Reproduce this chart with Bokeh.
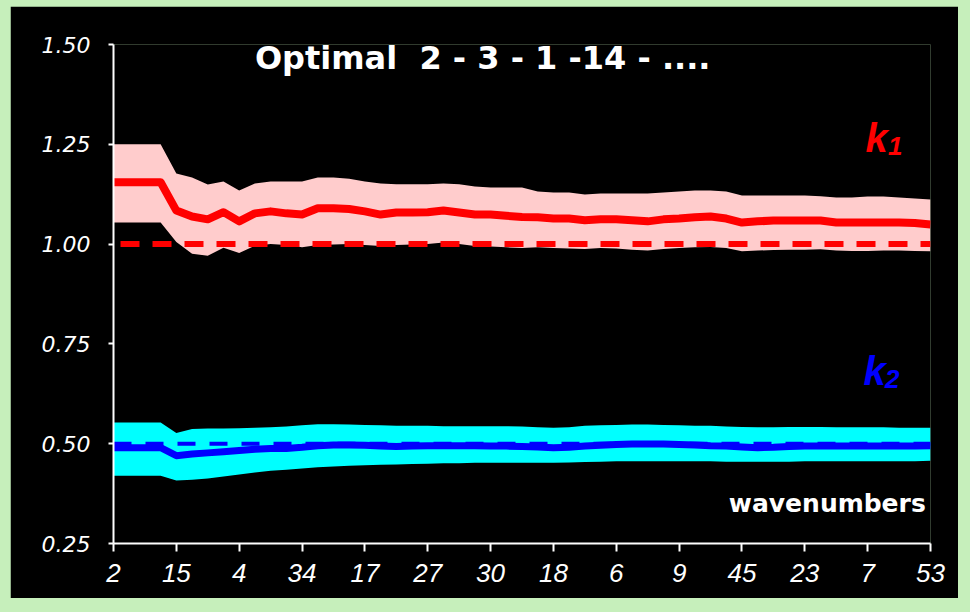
from bokeh.plotting import figure
from bokeh.layouts import column
from bokeh.models import Range1d, FixedTicker, Label
from bokeh.embed import file_html
from bokeh.resources import INLINE

# Wavenumber added at each labelled step (steps 1, 5, 9, ..., 53)
tick_labels = ["2", "15", "4", "34", "17", "27", "30", "18", "6", "9", "45", "23", "7", "53"]
n_steps = list(range(1, 54))

# k1 estimate: mean and band limits
k1_mean = [1.155, 1.155, 1.155, 1.155, 1.084, 1.069, 1.062, 1.080, 1.057, 1.077,
           1.082, 1.077, 1.074, 1.090, 1.090, 1.088, 1.082, 1.074, 1.079, 1.079,
           1.080, 1.084, 1.079, 1.074, 1.074, 1.071, 1.068, 1.067, 1.064, 1.064,
           1.060, 1.062, 1.062, 1.060, 1.057, 1.062, 1.064, 1.067, 1.069, 1.064,
           1.054, 1.057, 1.059, 1.059, 1.059, 1.059, 1.054, 1.054, 1.054, 1.054,
           1.054, 1.053, 1.049]
k1_upper = [1.250, 1.250, 1.250, 1.250, 1.177, 1.167, 1.149, 1.157, 1.134, 1.152,
            1.157, 1.157, 1.157, 1.167, 1.167, 1.164, 1.157, 1.152, 1.150, 1.150,
            1.150, 1.152, 1.150, 1.144, 1.142, 1.142, 1.142, 1.132, 1.129, 1.129,
            1.124, 1.127, 1.127, 1.127, 1.127, 1.129, 1.132, 1.134, 1.134, 1.132,
            1.122, 1.122, 1.122, 1.122, 1.122, 1.120, 1.117, 1.117, 1.119, 1.119,
            1.117, 1.114, 1.112]
k1_lower = [1.054, 1.054, 1.054, 1.054, 1.005, 0.976, 0.971, 0.991, 0.978, 0.996,
            1.000, 0.998, 0.992, 0.998, 0.999, 1.000, 0.998, 0.995, 0.998, 0.999,
            1.000, 1.004, 1.000, 0.995, 0.994, 0.992, 0.990, 0.992, 0.990, 0.989,
            0.988, 0.990, 0.989, 0.986, 0.984, 0.988, 0.990, 0.992, 0.993, 0.990,
            0.982, 0.984, 0.985, 0.986, 0.986, 0.987, 0.984, 0.983, 0.983, 0.984,
            0.984, 0.983, 0.982]

# k2 estimate: mean and band limits
k2_mean = [0.490, 0.490, 0.490, 0.490, 0.470, 0.474, 0.477, 0.480, 0.483, 0.486,
           0.488, 0.488, 0.491, 0.495, 0.497, 0.497, 0.496, 0.494, 0.493, 0.494,
           0.495, 0.495, 0.495, 0.495, 0.494, 0.494, 0.493, 0.492, 0.490, 0.491,
           0.494, 0.496, 0.498, 0.499, 0.499, 0.499, 0.498, 0.497, 0.495, 0.494,
           0.492, 0.490, 0.491, 0.493, 0.494, 0.494, 0.494, 0.494, 0.494, 0.494,
           0.494, 0.494, 0.495]
k2_upper = [0.553, 0.553, 0.553, 0.553, 0.527, 0.537, 0.538, 0.538, 0.539, 0.540,
            0.541, 0.543, 0.546, 0.549, 0.549, 0.548, 0.547, 0.546, 0.545, 0.545,
            0.545, 0.544, 0.544, 0.544, 0.544, 0.544, 0.543, 0.541, 0.540, 0.541,
            0.545, 0.546, 0.547, 0.548, 0.548, 0.547, 0.546, 0.545, 0.545, 0.543,
            0.542, 0.541, 0.541, 0.542, 0.542, 0.542, 0.541, 0.541, 0.541, 0.541,
            0.540, 0.540, 0.540]
k2_lower = [0.420, 0.420, 0.420, 0.420, 0.408, 0.410, 0.413, 0.418, 0.423, 0.428,
            0.432, 0.435, 0.438, 0.441, 0.443, 0.445, 0.446, 0.447, 0.448, 0.449,
            0.450, 0.451, 0.451, 0.452, 0.452, 0.452, 0.452, 0.452, 0.452, 0.453,
            0.454, 0.455, 0.456, 0.456, 0.456, 0.456, 0.456, 0.456, 0.456, 0.455,
            0.455, 0.455, 0.455, 0.455, 0.456, 0.456, 0.456, 0.456, 0.456, 0.456,
            0.456, 0.456, 0.457]

# True parameter values
k1_true = 1.0
k2_true = 0.5

y_ticks = [0.25, 0.50, 0.75, 1.00, 1.25, 1.50]

BG = "black"
FRAME_GREEN = "#c6efbb"

p = figure(width=948, height=592, output_backend="svg", toolbar_location=None,
           x_range=Range1d(n_steps[0], n_steps[-1]), y_range=Range1d(y_ticks[0], y_ticks[-1]),
           min_border_left=103, min_border_right=28, min_border_top=38, min_border_bottom=55)
p.background_fill_color = BG
p.border_fill_color = BG
p.outline_line_color = None
p.grid.visible = False
p.margin = (6, 12, 14, 10)

# k1 band, reference and mean
p.varea(x=n_steps, y1=k1_lower, y2=k1_upper, fill_color="#ffcccc")
p.line(x=[n_steps[0], n_steps[-1]], y=[k1_true, k1_true], line_color="#ff0000",
       line_width=6, line_dash="19 13", line_dash_offset=25)
p.line(x=n_steps, y=k1_mean, line_color="#ff0000", line_width=8, line_join="round")

# k2 band, mean and reference
p.varea(x=n_steps, y1=k2_lower, y2=k2_upper, fill_color="#00ffff")
p.line(x=n_steps, y=k2_mean, line_color="#0000ff", line_width=7, line_join="round")
p.line(x=[n_steps[0], n_steps[-1]], y=[k2_true, k2_true], line_color="#0000ff",
       line_width=4, line_dash="18 14")

# Axes
tick_pos = [n_steps[0] + 4 * i for i in range(len(tick_labels))]
p.xaxis.ticker = FixedTicker(ticks=tick_pos)
p.xaxis.major_label_overrides = {t: lab for t, lab in zip(tick_pos, tick_labels)}
p.yaxis.ticker = FixedTicker(ticks=y_ticks)
p.yaxis.major_label_overrides = {t: f"{t:.2f}" for t in y_ticks}

for ax in (p.xaxis, p.yaxis):
    ax.axis_line_color = "white"
    ax.axis_line_width = 2
    ax.major_tick_line_color = "white"
    ax.major_tick_line_width = 2
    ax.major_tick_in = 0
    ax.minor_tick_line_color = None
    ax.major_label_text_color = "white"
    ax.major_label_text_font_style = "italic"

p.xaxis.major_tick_out = 8
p.xaxis.major_label_standoff = 12
p.xaxis.major_label_text_font = "Liberation Sans"
p.xaxis.major_label_text_font_size = "26px"
p.yaxis.major_tick_out = 5
p.yaxis.major_label_standoff = 18
p.yaxis.major_label_text_font = "DejaVu Sans"
p.yaxis.major_label_text_font_size = "22px"

# Annotations
title_text = "Optimal\u00a0 2\u00a0-\u00a03\u00a0-\u00a01\u00a0-14\u00a0-\u00a0...."
p.add_layout(Label(x=10, y=1.467, text=title_text, text_color="white",
                   text_font="DejaVu Sans", text_font_style="bold", text_font_size="32px",
                   text_baseline="alphabetic"))
p.add_layout(Label(x=48.87, y=1.267, text="k", text_color="#ff0000",
                   text_font="Liberation Sans", text_font_style="bold italic",
                   text_font_size="40px", text_baseline="alphabetic"))
p.add_layout(Label(x=50.3, y=1.245, text="1", text_color="#ff0000",
                   text_font="Liberation Sans", text_font_style="bold italic",
                   text_font_size="26px", text_baseline="alphabetic"))
p.add_layout(Label(x=48.74, y=0.683, text="k", text_color="#0000ff",
                   text_font="Liberation Sans", text_font_style="bold italic",
                   text_font_size="40px", text_baseline="alphabetic"))
p.add_layout(Label(x=50.1, y=0.663, text="2", text_color="#0000ff",
                   text_font="Liberation Sans", text_font_style="bold italic",
                   text_font_size="26px", text_baseline="alphabetic"))
p.add_layout(Label(x=52.7, y=0.350, text="wavenumbers", text_color="white",
                   text_font="DejaVu Sans", text_font_style="bold", text_font_size="25px",
                   text_align="right", text_baseline="alphabetic"))

layout = column(p, width=970, height=612, styles={"background-color": FRAME_GREEN})

open("out.html", "w").write(file_html(layout, INLINE))
